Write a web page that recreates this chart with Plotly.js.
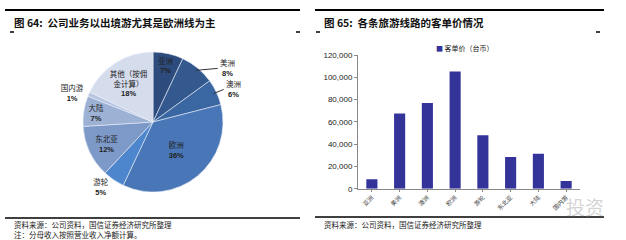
<!DOCTYPE html>
<html>
<head>
<meta charset="utf-8">
<script src="https://cdn.plot.ly/plotly-3.0.1.min.js"></script>
<style>html,body{margin:0;padding:0;background:#fff;}#chart{width:626px;height:240px;}</style>
</head>
<body>
<div id="chart"></div>
<script>
// ---- data ----
const pieLabels = ['亚洲', '美洲', '澳洲', '欧洲', '游轮', '东北亚', '大陆', '国内游', '其他（按佣金计算）'];
const pieShares = [7, 8, 6, 36, 5, 12, 7, 1, 18];
const barCategories = ['亚洲', '美洲', '澳洲', '欧洲', '游轮', '东北亚', '大陆', '国内游'];
const barValues = [8500, 67500, 76900, 105300, 47900, 28400, 31400, 6900];
const barSeriesName = '客单价（台币）';
const yTickVals = [0, 20000, 40000, 60000, 80000, 100000, 120000];
const yTickText = ['0', '20,000', '40,000', '60,000', '80,000', '100,000', '120,000'];

const CJK = '"Noto Sans CJK SC", "Liberation Sans", sans-serif';
const MIX = '"Liberation Sans", "Noto Sans CJK SC", sans-serif';
const pieColors = ['#2d4b7c', '#33598f', '#3a66a1', '#4876b6', '#4d86cc', '#7d99c8', '#9db1d5', '#b7c5e1', '#d5dcec'];
const pieText = pieLabels.map(l => l === '其他（按佣金计算）' ? '其他（按佣<br>金计算）' : l);
const leaderSlices = ['美洲', '澳洲'];           // labels drawn with leader lines
const outsideSlices = ['游轮', '国内游'];
const textPos = pieLabels.map(l => leaderSlices.includes(l) ? 'none' : (outsideSlices.includes(l) ? 'outside' : 'inside'));

const W = 626, H = 240;
const px = x => x / W, py = y => 1 - y / H;
const PCX = 153, PCY = 122, PR = 70;

const pie = {
  type: 'pie',
  labels: pieLabels,
  values: pieShares,
  text: pieText,
  texttemplate: '%{text}<br><b>%{value}%</b>',
  textposition: textPos,
  insidetextorientation: 'horizontal',
  sort: false,
  direction: 'clockwise',
  rotation: 0,
  marker: {colors: pieColors, line: {color: '#e8edf6', width: 0.6}},
  textfont: {family: MIX, size: 7.5, color: '#222'},
  insidetextfont: {family: MIX, size: 7.5, color: '#222'},
  outsidetextfont: {family: MIX, size: 7.5, color: '#222'},
  domain: {x: [px(PCX - PR), px(PCX + PR)], y: [py(PCY + PR), py(PCY - PR)]},
  showlegend: false,
  hoverinfo: 'label+percent'
};

const bar = {
  type: 'bar',
  x: barCategories,
  y: barValues,
  name: barSeriesName,
  marker: {color: '#333399'},
  xaxis: 'x',
  yaxis: 'y',
  showlegend: false
};

// leader-line labels, anchored at the slice mid-angle on the rim
const total = pieShares.reduce((a, b) => a + b, 0);
const leaderOffsets = {'美洲': [22, -2], '澳洲': [10, -4]};
const leaderAnns = [];
let cum = 0;
pieLabels.forEach((l, i) => {
  const mid = (cum + pieShares[i] / 2) / total * 2 * Math.PI;
  cum += pieShares[i];
  if (!leaderSlices.includes(l)) return;
  const r = PR - 3;
  const tx = PCX + r * Math.sin(mid), ty = PCY - r * Math.cos(mid);
  leaderAnns.push({
    text: l + '<br><b>' + pieShares[i] + '%</b>',
    xref: 'paper', yref: 'paper', x: px(tx), y: py(ty),
    ax: leaderOffsets[l][0], ay: leaderOffsets[l][1],
    xanchor: 'left', yanchor: 'middle', align: 'center',
    showarrow: true, arrowhead: 0, arrowwidth: 1, arrowcolor: '#333',
    font: {family: MIX, size: 7.5, color: '#222'}
  });
});

const layout = {
  width: W, height: H,
  margin: {l: 0, r: 0, t: 0, b: 0},
  paper_bgcolor: '#fff',
  plot_bgcolor: 'rgba(0,0,0,0)',
  font: {family: CJK, color: '#222'},
  bargap: 0.6,
  showlegend: false,
  xaxis: {
    domain: [px(358), px(580)],
    anchor: 'y',
    showline: true, linecolor: '#888', linewidth: 1,
    ticks: 'outside', ticklen: 2, tickcolor: '#888',
    tickangle: -45,
    tickfont: {family: CJK, size: 6, color: '#444'},
    showgrid: false, zeroline: false, fixedrange: true
  },
  yaxis: {
    domain: [py(188.7), py(55)],
    anchor: 'x',
    range: [0, 120000],
    tickvals: yTickVals, ticktext: yTickText,
    showline: true, linecolor: '#888', linewidth: 1,
    ticks: 'outside', ticklen: 3, tickcolor: '#888',
    tickfont: {family: '"Liberation Sans", Arial, sans-serif', size: 8, color: '#222'},
    showgrid: false, zeroline: false, fixedrange: true
  },
  shapes: [
    {type: 'line', xref: 'paper', yref: 'paper', x0: px(5), x1: px(300), y0: py(10), y1: py(10), line: {color: '#000', width: 2}},
    {type: 'line', xref: 'paper', yref: 'paper', x0: px(315), x1: px(604), y0: py(10), y1: py(10), line: {color: '#000', width: 2}},
    {type: 'line', xref: 'paper', yref: 'paper', x0: px(5), x1: px(300), y0: py(218), y1: py(218), line: {color: '#000', width: 1.5}},
    {type: 'line', xref: 'paper', yref: 'paper', x0: px(315), x1: px(604), y0: py(217), y1: py(217), line: {color: '#000', width: 1.5}},
    {type: 'line', xref: 'paper', yref: 'paper', x0: px(10), x1: px(14), y0: py(32), y1: py(32), line: {color: '#000', width: 1.5}},
    {type: 'line', xref: 'paper', yref: 'paper', x0: px(296), x1: px(300), y0: py(32), y1: py(32), line: {color: '#000', width: 1.5}},
    {type: 'line', xref: 'paper', yref: 'paper', x0: px(316), x1: px(320), y0: py(32), y1: py(32), line: {color: '#000', width: 1.5}},
    {type: 'line', xref: 'paper', yref: 'paper', x0: px(596), x1: px(600), y0: py(32), y1: py(32), line: {color: '#000', width: 1.5}}
  ],
  annotations: [
    {text: '<b>图 64:  公司业务以出境游尤其是欧洲线为主</b>', xref: 'paper', yref: 'paper', x: px(12), y: py(22), xanchor: 'left', yanchor: 'middle', showarrow: false, font: {family: CJK, size: 10.5, color: '#111'}},
    {text: '<b>图 65:  各条旅游线路的客单价情况</b>', xref: 'paper', yref: 'paper', x: px(322), y: py(22), xanchor: 'left', yanchor: 'middle', showarrow: false, font: {family: CJK, size: 10.5, color: '#111'}},
    {text: '<span style="color:#333399">■</span> ' + barSeriesName, xref: 'paper', yref: 'paper', x: px(434), y: py(48), xanchor: 'left', yanchor: 'middle', showarrow: false, font: {family: CJK, size: 7, color: '#222'}},
    {text: '资料来源：公司资料，国信证券经济研究所整理', xref: 'paper', yref: 'paper', x: px(12), y: py(224.5), xanchor: 'left', yanchor: 'middle', showarrow: false, font: {family: CJK, size: 7.5, color: '#222'}},
    {text: '注：分母收入按照营业收入净额计算。', xref: 'paper', yref: 'paper', x: px(12), y: py(234.5), xanchor: 'left', yanchor: 'middle', showarrow: false, font: {family: CJK, size: 7.5, color: '#222'}},
    {text: '资料来源：公司资料，国信证券经济研究所整理', xref: 'paper', yref: 'paper', x: px(322), y: py(224.5), xanchor: 'left', yanchor: 'middle', showarrow: false, font: {family: CJK, size: 7.5, color: '#222'}},
    {text: '投资', xref: 'paper', yref: 'paper', x: px(606), y: py(206), xanchor: 'right', yanchor: 'middle', showarrow: false, font: {family: CJK, size: 19, color: 'rgba(170,170,170,0.5)'}}
  ].concat(leaderAnns)
};

Plotly.newPlot('chart', [pie, bar], layout, {staticPlot: true, displayModeBar: false});
</script>
</body>
</html>
